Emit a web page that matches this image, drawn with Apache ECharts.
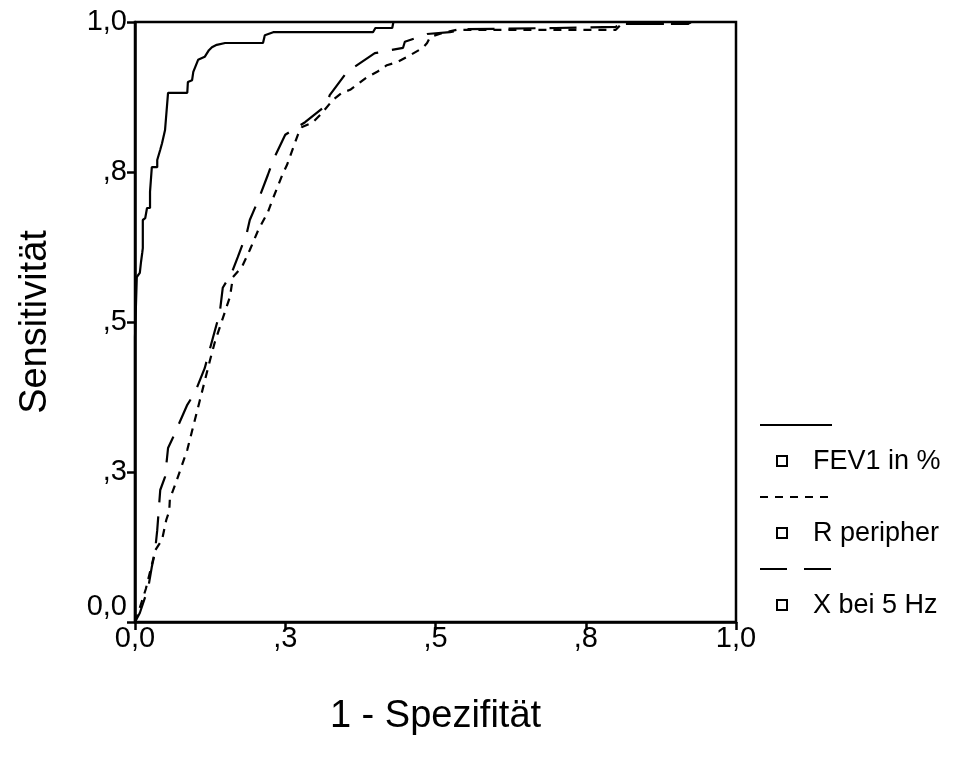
<!DOCTYPE html>
<html>
<head>
<meta charset="utf-8">
<script src="https://cdn.jsdelivr.net/npm/echarts@6/dist/echarts.min.js"></script>
<style>
html,body{margin:0;padding:0;background:#fff;}
#chart{width:958px;height:770px;}
</style>
</head>
<body>
<div id="chart"></div>
<script>
// ---- data ----
var seriesNames = ['FEV1 in %', 'R peripher', 'X bei 5 Hz'];
var tickValues = [0, 0.25, 0.5, 0.75, 1];
var tickLabels = ['0,0', ',3', ',5', ',8', '1,0'];

var fevX = [0, 0, 0.003, 0.003, 0.008, 0.01, 0.012, 0.013, 0.013, 0.017, 0.02, 0.025, 0.025, 0.028, 0.037, 0.037, 0.042, 0.045, 0.05, 0.055, 0.087, 0.088, 0.095, 0.097, 0.105, 0.116, 0.123, 0.128, 0.136, 0.15, 0.213, 0.216, 0.23, 0.396, 0.4, 0.428, 0.43, 1.0];
var fevY = [0, 0.475, 0.475, 0.575, 0.582, 0.6, 0.615, 0.623, 0.67, 0.673, 0.69, 0.69, 0.717, 0.758, 0.758, 0.77, 0.787, 0.798, 0.82, 0.882, 0.882, 0.9, 0.903, 0.917, 0.937, 0.942, 0.953, 0.958, 0.962, 0.965, 0.965, 0.978, 0.983, 0.983, 0.99, 0.99, 1.0, 1.0];

var rX = [0, 0.003, 0.018, 0.034, 0.045, 0.052, 0.057, 0.058, 0.068, 0.087, 0.108, 0.125, 0.133, 0.145, 0.158, 0.163, 0.178, 0.191, 0.205, 0.221, 0.23, 0.245, 0.253, 0.263, 0.271, 0.278, 0.295, 0.311, 0.329, 0.344, 0.358, 0.386, 0.403, 0.419, 0.436, 0.453, 0.479, 0.486, 0.491, 0.512, 0.536, 0.8, 0.81, 0.92, 0.925, 1];
var rY = [0, 0.008, 0.055, 0.12, 0.137, 0.17, 0.185, 0.205, 0.232, 0.287, 0.37, 0.437, 0.467, 0.503, 0.542, 0.575, 0.592, 0.62, 0.653, 0.683, 0.707, 0.745, 0.762, 0.79, 0.812, 0.825, 0.832, 0.848, 0.87, 0.882, 0.887, 0.908, 0.917, 0.928, 0.933, 0.942, 0.957, 0.965, 0.975, 0.982, 0.987, 0.987, 0.997, 0.997, 1, 1];

var xX = [0, 0.008, 0.022, 0.028, 0.033, 0.037, 0.042, 0.05, 0.055, 0.063, 0.087, 0.1, 0.116, 0.13, 0.141, 0.146, 0.161, 0.171, 0.186, 0.191, 0.205, 0.221, 0.23, 0.25, 0.275, 0.283, 0.319, 0.324, 0.353, 0.399, 0.446, 0.449, 0.486, 0.524, 0.546, 0.7, 0.8, 0.81, 0.92, 0.925, 1];
var xY = [0, 0.015, 0.057, 0.092, 0.115, 0.153, 0.22, 0.242, 0.29, 0.307, 0.362, 0.383, 0.423, 0.475, 0.515, 0.557, 0.582, 0.608, 0.648, 0.67, 0.703, 0.745, 0.77, 0.812, 0.828, 0.833, 0.862, 0.878, 0.917, 0.948, 0.957, 0.967, 0.98, 0.983, 0.988, 0.99, 0.992, 0.997, 0.997, 1, 1];

function pairs(xs, ys) { return xs.map(function (v, i) { return [v, ys[i]]; }); }
function tickText(v) {
  for (var i = 0; i < tickValues.length; i++) if (Math.abs(tickValues[i] - v) < 1e-9) return tickLabels[i];
  return '';
}

var FONT = '"Liberation Sans", Arial, sans-serif';
var chart = echarts.init(document.getElementById('chart'), null, {renderer: 'canvas'});

var axisCommon = {
  type: 'value', min: 0, max: 1, interval: 0.25,
  splitLine: {show: false},
  axisLine: {show: true, onZero: false, lineStyle: {color: '#000', width: 2.5}},
  axisTick: {show: true, inside: false, length: 8, lineStyle: {color: '#000', width: 2.5}},
  nameLocation: 'middle',
  nameTextStyle: {color: '#000', fontSize: 38, fontFamily: FONT}
};

var lineX0 = 760, lineX1 = 832, sqX = 777, txtX = 813;
var legendRows = [
  {lineY: 425, textY: 462, dash: null},
  {lineY: 497, textY: 534, dash: [8, 7]},
  {lineY: 569, textY: 606, dash: [27, 17]}
];
var graphics = [];
legendRows.forEach(function (r, i) {
  graphics.push({
    type: 'line', shape: {x1: lineX0, y1: r.lineY, x2: lineX1, y2: r.lineY},
    style: {stroke: '#000', lineWidth: 2, lineDash: r.dash}
  });
  graphics.push({
    type: 'rect', shape: {x: sqX, y: r.textY - 6, width: 10, height: 10},
    style: {stroke: '#000', fill: '#fff', lineWidth: 2}
  });
  graphics.push({
    type: 'text', x: txtX, y: r.textY,
    style: {text: seriesNames[i], fill: '#000', font: '27px ' + FONT, textVerticalAlign: 'middle', verticalAlign: 'middle'}
  });
});

var option = {
  backgroundColor: '#fff',
  animation: false,
  grid: {left: 135, right: 222, top: 22, bottom: 148, show: true, borderColor: '#000', borderWidth: 2.5, backgroundColor: 'transparent'},
  xAxis: Object.assign({}, axisCommon, {
    name: '1 - Spezifität', nameGap: 76,
    axisLabel: {color: '#000', fontSize: 29, fontFamily: FONT, margin: 2, formatter: tickText}
  }),
  yAxis: Object.assign({}, axisCommon, {
    name: 'Sensitivität', nameGap: 80,
    axisLabel: {color: '#000', fontSize: 29, fontFamily: FONT, margin: 8,
      formatter: function (v) { return v === 0 ? '{lo|' + tickText(v) + '}' : tickText(v); },
      rich: {lo: {fontSize: 29, fontFamily: FONT, color: '#000', padding: [0, 0, 30, 0]}}
    }
  }),
  graphic: graphics,
  series: [
    {name: seriesNames[0], type: 'line', data: pairs(fevX, fevY), showSymbol: false, symbol: 'none',
      lineStyle: {color: '#000', width: 2.2, type: 'solid'}},
    {name: seriesNames[1], type: 'line', data: pairs(rX, rY), showSymbol: false, symbol: 'none',
      lineStyle: {color: '#000', width: 2.2, type: [8, 7]}},
    {name: seriesNames[2], type: 'line', data: pairs(xX, xY), showSymbol: false, symbol: 'none',
      lineStyle: {color: '#000', width: 2.2, type: [27, 14]}}
  ]
};
chart.setOption(option);
</script>
</body>
</html>
